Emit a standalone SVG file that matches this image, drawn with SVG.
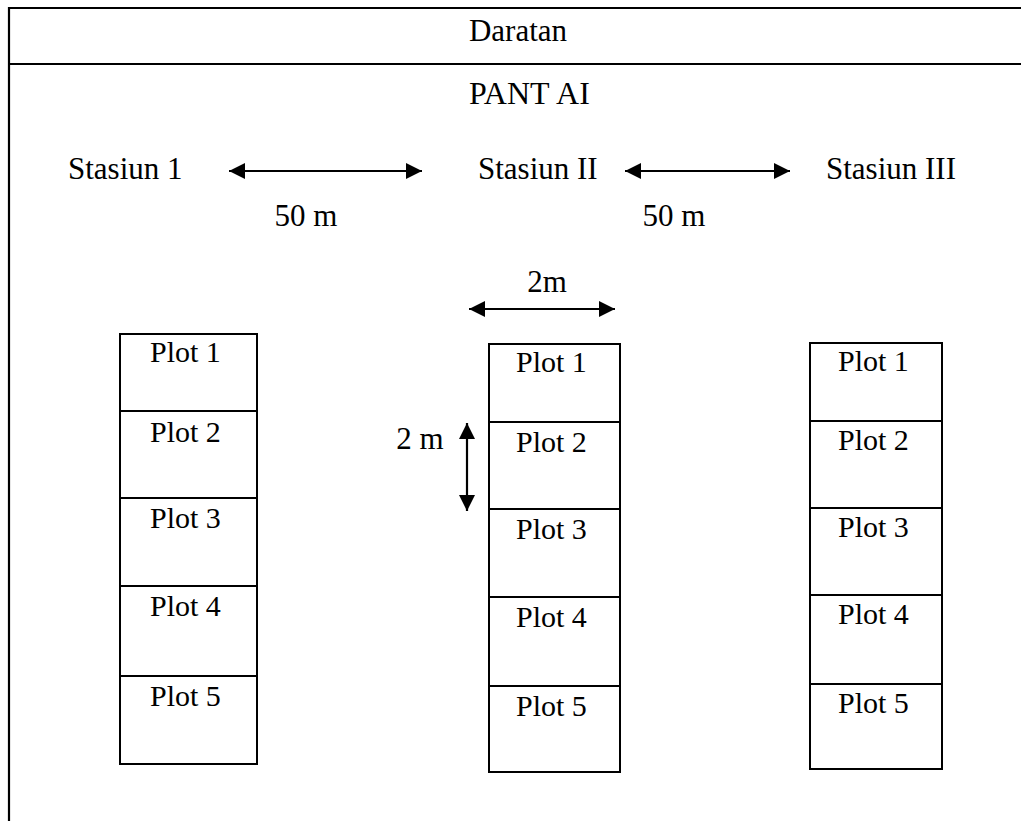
<svg xmlns="http://www.w3.org/2000/svg" width="1021" height="821" viewBox="0 0 1021 821">
  <style>
    .frame { fill: none; stroke: #000; stroke-width: 2.2; }
    .box { fill: #fff; stroke: #000; stroke-width: 2; }
    .lbl { font-family: 'Times New Roman', 'Liberation Serif', 'DejaVu Serif', serif; font-size: 31px; fill: #000; }
    .plot { font-family: 'Times New Roman', 'Liberation Serif', 'DejaVu Serif', serif; font-size: 30px; fill: #000; }
    .dim { stroke: #000; stroke-width: 2.2; fill: none; }
  </style>
  <defs>
    <marker id="head" viewBox="0 0 16 16" refX="16" refY="8" markerWidth="16" markerHeight="16" markerUnits="userSpaceOnUse" orient="auto-start-reverse">
      <path d="M0,0 L16,8 L0,16 Z" fill="#000"/>
    </marker>
  </defs>

  <rect width="1021" height="821" fill="#fff"/>

  <!-- outer frame: land strip on top, beach area below -->
  <g id="frame">
    <path class="frame" d="M1022,8 H9 V821 M9,64 H1022"/>
    <text class="lbl" x="518" y="41" text-anchor="middle">Daratan</text>
    <text class="lbl" x="469" y="104" style="font-size:32px">PANT<tspan dx="9">AI</tspan></text>
  </g>

  <!-- station labels -->
  <g id="stasiun-1"><text class="lbl" x="68" y="179">Stasiun 1</text></g>
  <g id="stasiun-2"><text class="lbl" x="478" y="179">Stasiun II</text></g>
  <g id="stasiun-3"><text class="lbl" x="826" y="179">Stasiun III</text></g>

  <!-- dimension arrows -->
  <g id="connectors">
    <line class="dim" x1="229" y1="171" x2="422" y2="171" marker-start="url(#head)" marker-end="url(#head)"/>
    <line class="dim" x1="625" y1="171" x2="790" y2="171" marker-start="url(#head)" marker-end="url(#head)"/>
    <line class="dim" x1="469" y1="309" x2="615" y2="309" marker-start="url(#head)" marker-end="url(#head)"/>
    <line class="dim" x1="467" y1="423" x2="467" y2="511" marker-start="url(#head)" marker-end="url(#head)"/>
  </g>
  <g id="dim-labels">
    <text class="lbl" x="306" y="226" text-anchor="middle">50 m</text>
    <text class="lbl" x="674" y="226" text-anchor="middle">50 m</text>
    <text class="lbl" x="547" y="292" text-anchor="middle">2m</text>
    <text class="lbl" x="420" y="449" text-anchor="middle">2 m</text>
  </g>

  <!-- station I plots -->
  <g id="plots-1">
    <rect class="box" x="120" y="334" width="137" height="430"/>
    <path class="dim" d="M120,411 H257 M120,498 H257 M120,586 H257 M120,676 H257"/>
    <text class="plot" x="150" y="362">Plot 1</text>
    <text class="plot" x="150" y="442">Plot 2</text>
    <text class="plot" x="150" y="528">Plot 3</text>
    <text class="plot" x="150" y="616">Plot 4</text>
    <text class="plot" x="150" y="706">Plot 5</text>
  </g>

  <!-- station II plots -->
  <g id="plots-2">
    <rect class="box" x="489" y="344" width="131" height="428"/>
    <path class="dim" d="M489,422 H620 M489,509 H620 M489,597 H620 M489,686 H620"/>
    <text class="plot" x="516" y="372">Plot 1</text>
    <text class="plot" x="516" y="452">Plot 2</text>
    <text class="plot" x="516" y="539">Plot 3</text>
    <text class="plot" x="516" y="627">Plot 4</text>
    <text class="plot" x="516" y="716">Plot 5</text>
  </g>

  <!-- station III plots -->
  <g id="plots-3">
    <rect class="box" x="810" y="343" width="132" height="426"/>
    <path class="dim" d="M810,421 H942 M810,508 H942 M810,595 H942 M810,684 H942"/>
    <text class="plot" x="838" y="371">Plot 1</text>
    <text class="plot" x="838" y="450">Plot 2</text>
    <text class="plot" x="838" y="537">Plot 3</text>
    <text class="plot" x="838" y="624">Plot 4</text>
    <text class="plot" x="838" y="713">Plot 5</text>
  </g>
</svg>
